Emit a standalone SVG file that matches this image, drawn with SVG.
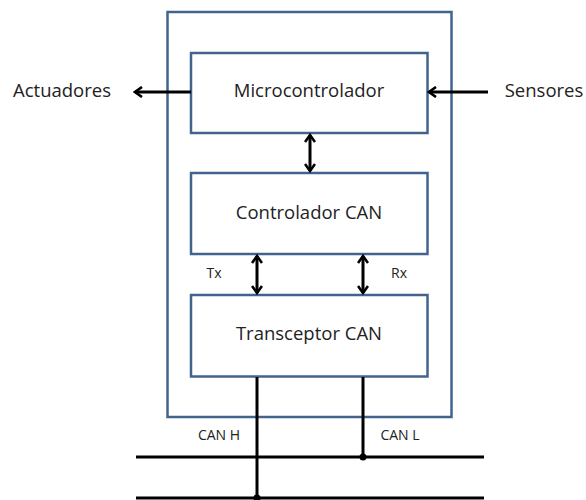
<svg xmlns="http://www.w3.org/2000/svg" width="586" height="500" viewBox="0 0 586 500">
<defs>
<style>
.box{fill:#fff;stroke:#41648f;stroke-width:2.5}
.ln{stroke:#000;stroke-width:3;fill:none}
.t{font-family:"Open Sans","Liberation Sans",sans-serif;fill:#222;text-anchor:middle;dominant-baseline:central}
.big{font-size:18.5px}
.sm{font-size:14px}
</style>
<marker id="ah" viewBox="0 0 12 12" refX="10" refY="6" markerWidth="12" markerHeight="12" markerUnits="userSpaceOnUse" orient="auto-start-reverse">
<path d="M3,1 L10,6 L3,11" fill="none" stroke="#000" stroke-width="2.6" stroke-linejoin="miter"/>
</marker>
</defs>
<rect width="586" height="500" fill="#fff"/>
<g id="ecu"><rect class="box" x="167.5" y="12" width="284" height="405"/></g>
<g id="micro"><rect class="box" x="191" y="53" width="236.5" height="80"/><text class="t big" x="309" y="89">Microcontrolador</text></g>
<g id="ctrl"><rect class="box" x="191" y="173" width="236.5" height="81"/><text class="t big" x="309" y="211">Controlador CAN</text></g>
<g id="trans"><rect class="box" x="191" y="295" width="236.5" height="81.5"/><text class="t big" x="309" y="332">Transceptor CAN</text></g>
<g id="actuadores"><text class="t big" x="62" y="89">Actuadores</text></g>
<g id="sensores"><text class="t big" x="544" y="89">Sensores</text></g>
<g id="labels">
<text class="t sm" x="214" y="272">Tx</text>
<text class="t sm" x="399" y="272">Rx</text>
<text class="t sm" x="219" y="434">CAN H</text>
<text class="t sm" x="400" y="434">CAN L</text>
</g>
<g id="connectors">
<line class="ln" x1="191" y1="92" x2="135" y2="92" marker-end="url(#ah)"/>
<line class="ln" x1="488" y1="92" x2="429" y2="92" marker-end="url(#ah)"/>
<line class="ln" x1="310" y1="135" x2="310" y2="171" marker-start="url(#ah)" marker-end="url(#ah)"/>
<line class="ln" x1="257" y1="256" x2="257" y2="293" marker-start="url(#ah)" marker-end="url(#ah)"/>
<line class="ln" x1="363" y1="256" x2="363" y2="293" marker-start="url(#ah)" marker-end="url(#ah)"/>
<line class="ln" x1="257" y1="377" x2="257" y2="498"/>
<line class="ln" x1="363" y1="377" x2="363" y2="457"/>
<line class="ln" x1="136" y1="457" x2="484" y2="457"/>
<line class="ln" x1="136" y1="498" x2="484" y2="498"/>
<circle cx="363" cy="457" r="3.5" fill="#000"/>
<circle cx="257" cy="498" r="3.5" fill="#000"/>
</g>
</svg>
